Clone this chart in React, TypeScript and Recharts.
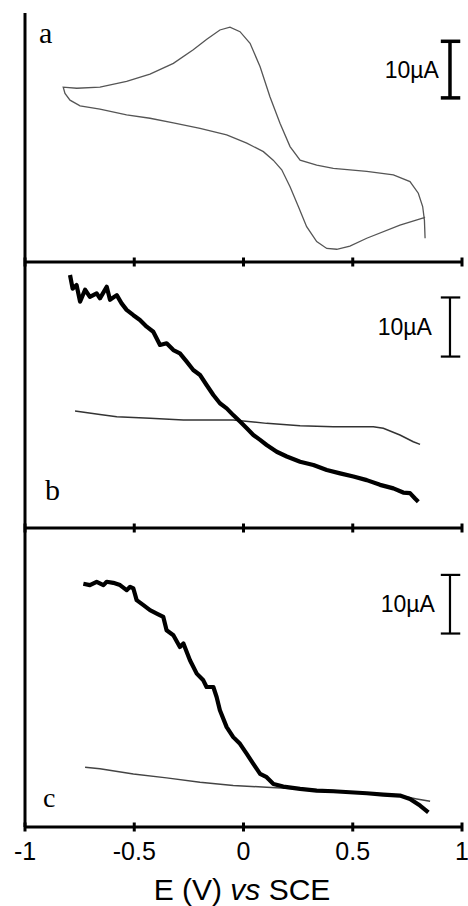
import React from "react";
import { LineChart, Line, XAxis, YAxis, ReferenceLine, ReferenceDot } from "recharts";

// E (V vs SCE) and current (µA)
const xTicks = [-1, -0.5, 0, 0.5, 1];

// panel a: cyclic voltammogram, one sweep back and forth
const cvA: [number, number][] = [
  [0.831, -10.1], [0.716, -11.5], [0.564, -13.8], [0.487, -15.2], [0.427, -15.75],
  [0.381, -15.6], [0.335, -14.4], [0.289, -11.75], [0.251, -8.2], [0.213, -4.7],
  [0.175, -1.7], [0.136, 0], [0.091, 1.5], [0.015, 3.0], [-0.077, 4.45],
  [-0.199, 5.6], [-0.321, 6.6], [-0.428, 7.4], [-0.535, 8.0], [-0.657, 9.0],
  [-0.748, 9.6], [-0.794, 10.6], [-0.817, 11.8], [-0.825, 12.9], [-0.763, 12.7],
  [-0.657, 12.9], [-0.535, 13.9], [-0.428, 15.2], [-0.321, 17.1], [-0.23, 19.5],
  [-0.168, 21.35], [-0.108, 23.0], [-0.062, 23.5], [-0.016, 22.7], [0.03, 20.65],
  [0.076, 16.5], [0.121, 11.2], [0.167, 6.5], [0.213, 2.4], [0.259, 0],
  [0.335, -0.9], [0.411, -1.45], [0.564, -2.0], [0.686, -2.6], [0.762, -3.8],
  [0.8, -5.85], [0.82, -8.2], [0.828, -10.6], [0.831, -13.8],
];

// panel b
const thinB: [number, number][] = [
  [-0.771, -5.2], [-0.657, -5.78], [-0.58, -6.17], [-0.428, -6.45], [-0.275, -6.73],
  [-0.047, -6.73], [0.106, -7.3], [0.259, -7.69], [0.411, -7.86], [0.594, -7.86],
  [0.64, -8.14], [0.716, -9.27], [0.777, -10.4], [0.808, -10.85],
];
const thickB: [number, number][] = [
  [-0.794, 17.8], [-0.782, 15.5], [-0.764, 16.1], [-0.748, 13.3], [-0.725, 15.3],
  [-0.703, 14.1], [-0.672, 14.7], [-0.657, 13.85], [-0.626, 15.8], [-0.611, 13.6],
  [-0.58, 14.4], [-0.558, 13.0], [-0.535, 11.9], [-0.504, 11.0], [-0.474, 10.2],
  [-0.443, 9.06], [-0.413, 8.2], [-0.382, 5.96], [-0.352, 6.24], [-0.321, 5.1],
  [-0.291, 4.55], [-0.26, 3.14], [-0.23, 1.73], [-0.199, 0.88], [-0.169, -0.81],
  [-0.138, -2.5], [-0.108, -3.9], [-0.077, -4.76], [-0.047, -5.9], [-0.016, -7.0],
  [0.015, -8.14], [0.045, -9.27], [0.076, -10.1], [0.106, -10.96], [0.152, -12.1],
  [0.198, -12.9], [0.259, -13.8], [0.32, -14.35], [0.381, -15.2], [0.442, -15.76],
  [0.503, -16.3], [0.564, -16.9], [0.625, -17.7], [0.686, -18.3], [0.731, -19.0],
  [0.762, -19.1], [0.785, -20.0], [0.8, -20.55],
];

// panel c
const thinC: [number, number][] = [
  [-0.725, -19.8], [-0.657, -20.08], [-0.504, -20.94], [-0.352, -21.62], [-0.199, -22.36],
  [-0.047, -22.93], [0.106, -23.22], [0.259, -23.5], [0.411, -23.79], [0.564, -24.24],
  [0.716, -24.64], [0.793, -25.21], [0.854, -25.61],
];
const thickC: [number, number][] = [
  [-0.733, 11.5], [-0.703, 11.26], [-0.672, 11.83], [-0.641, 11.26], [-0.626, 11.83],
  [-0.596, 11.65], [-0.565, 11.26], [-0.535, 10.4], [-0.519, 10.97], [-0.504, 10.69],
  [-0.489, 8.69], [-0.458, 7.84], [-0.428, 6.98], [-0.397, 6.41], [-0.367, 5.84],
  [-0.352, 3.56], [-0.321, 2.71], [-0.291, 0.71], [-0.275, 1.29], [-0.245, -1.56],
  [-0.214, -3.84], [-0.184, -4.98], [-0.169, -6.12], [-0.138, -6.12], [-0.123, -7.83],
  [-0.108, -10.1], [-0.077, -12.96], [-0.047, -14.67], [-0.016, -15.81], [0.015, -17.52],
  [0.045, -19.23], [0.076, -20.94], [0.106, -21.51], [0.137, -22.65], [0.182, -23.1],
  [0.259, -23.5], [0.335, -23.79], [0.411, -23.9], [0.487, -24.07], [0.564, -24.24],
  [0.64, -24.47], [0.716, -24.64], [0.762, -25.21], [0.808, -26.35], [0.846, -27.49],
];

// 10 µA scale bars: [bottom, top] current in each panel
const barA = [11, 21];
const barB = [4, 14];
const barC = [3, 13];

const toPts = (arr: [number, number][]) => arr.map(([e, i]) => ({ e, i }));

const SANS = "'Liberation Sans', Arial, sans-serif";
const SERIF = "'Liberation Serif', 'Times New Roman', serif";

const Tick = (props: any) => {
  const { x, y, payload, showLabel } = props;
  return (
    <g>
      <line x1={x} x2={x} y1={y - 4.5} y2={y + 4.5} stroke="#000" strokeWidth={3} />
      {showLabel && (
        <text x={x} y={y + 33} textAnchor="middle" fontSize={25} fontFamily={SANS} fill="#000">
          {String(payload.value)}
        </text>
      )}
    </g>
  );
};

const ScaleBar = ({ bar, width, offset }: { bar: number[]; width: number; offset: number }) => {
  const bx = 0.945;
  return [
    <ReferenceLine key="v" segment={[{ x: bx, y: bar[0] }, { x: bx, y: bar[1] }]} stroke="#000" strokeWidth={width} />,
    <ReferenceLine key="lo" segment={[{ x: 0.903, y: bar[0] }, { x: 0.992, y: bar[0] }]} stroke="#000" strokeWidth={width} />,
    <ReferenceLine key="hi" segment={[{ x: 0.903, y: bar[1] }, { x: 0.992, y: bar[1] }]} stroke="#000" strokeWidth={width} />,
    <ReferenceDot
      key="t"
      x={bx}
      y={(bar[0] + bar[1]) / 2}
      r={0}
      fill="none"
      stroke="none"
      label={{ value: "10µA", position: "left", offset, fontSize: 23, fontFamily: SANS, fill: "#000" }}
    />,
  ];
};

const Panel = (props: {
  top: number;
  plotHeight: number;
  domain: [number, number];
  last?: boolean;
  children: React.ReactNode;
}) => {
  const { top, plotHeight, domain, last, children } = props;
  const axisH = last ? 79 : 6;
  return (
    <div style={{ position: "absolute", left: 0, top }}>
      <LineChart
        width={468}
        height={plotHeight + axisH}
        margin={{ top: 0, right: 6, bottom: 0, left: 25 }}
      >
        <XAxis
          dataKey="e"
          type="number"
          domain={[-1, 1]}
          ticks={xTicks}
          interval={0}
          height={axisH}
          tickSize={0}
          tickMargin={0}
          tickLine={false}
          axisLine={{ stroke: "#000", strokeWidth: 3 }}
          tick={(p: any) => <Tick {...p} showLabel={last} />}
          label={
            last
              ? {
                  content: (lp: any) => {
                    const vb = lp.viewBox;
                    return (
                      <text x={242} y={vb.y + 73} textAnchor="middle" fontSize={30} fontFamily={SANS} fill="#000">
                        E (V) <tspan fontStyle="italic">vs</tspan> SCE
                      </text>
                    );
                  },
                }
              : undefined
          }
        />
        <YAxis type="number" domain={domain} hide />
        <ReferenceLine x={-1} stroke="#000" strokeWidth={3} />
        {children}
      </LineChart>
    </div>
  );
};

export default function App() {
  return (
    <div style={{ position: "absolute", left: 0, top: 0, width: 468, height: 906, background: "#fff" }}>
      <Panel top={13} plotHeight={249} domain={[-18, 26]}>
        <Line data={toPts(cvA)} dataKey="i" type="linear" stroke="#555" strokeWidth={1.3} dot={false} isAnimationActive={false} />
        {ScaleBar({ bar: barA, width: 3.5, offset: 11 })}
      </Panel>
      <Panel top={262} plotHeight={266} domain={[-25, 20]}>
        <Line data={toPts(thinB)} dataKey="i" type="linear" stroke="#333" strokeWidth={1.5} dot={false} isAnimationActive={false} />
        <Line data={toPts(thickB)} dataKey="i" type="linear" stroke="#000" strokeWidth={4.2} strokeLinejoin="round" dot={false} isAnimationActive={false} />
        {ScaleBar({ bar: barB, width: 2.2, offset: 18 })}
      </Panel>
      <Panel top={528} plotHeight={299} domain={[-30, 21]} last>
        <Line data={toPts(thinC)} dataKey="i" type="linear" stroke="#444" strokeWidth={1.5} dot={false} isAnimationActive={false} />
        <Line data={toPts(thickC)} dataKey="i" type="linear" stroke="#000" strokeWidth={4.2} strokeLinejoin="round" dot={false} isAnimationActive={false} />
        {ScaleBar({ bar: barC, width: 2.2, offset: 15 })}
      </Panel>
      <svg width={468} height={906} style={{ position: "absolute", left: 0, top: 0, pointerEvents: "none" }}>
        <text x={39} y={43} fontSize={30} fontFamily={SERIF} fill="#000">a</text>
        <text x={45} y={500} fontSize={30} fontFamily={SERIF} fill="#000">b</text>
        <text x={43} y={807} fontSize={28} fontFamily={SERIF} fill="#000">c</text>
      </svg>
    </div>
  );
}
